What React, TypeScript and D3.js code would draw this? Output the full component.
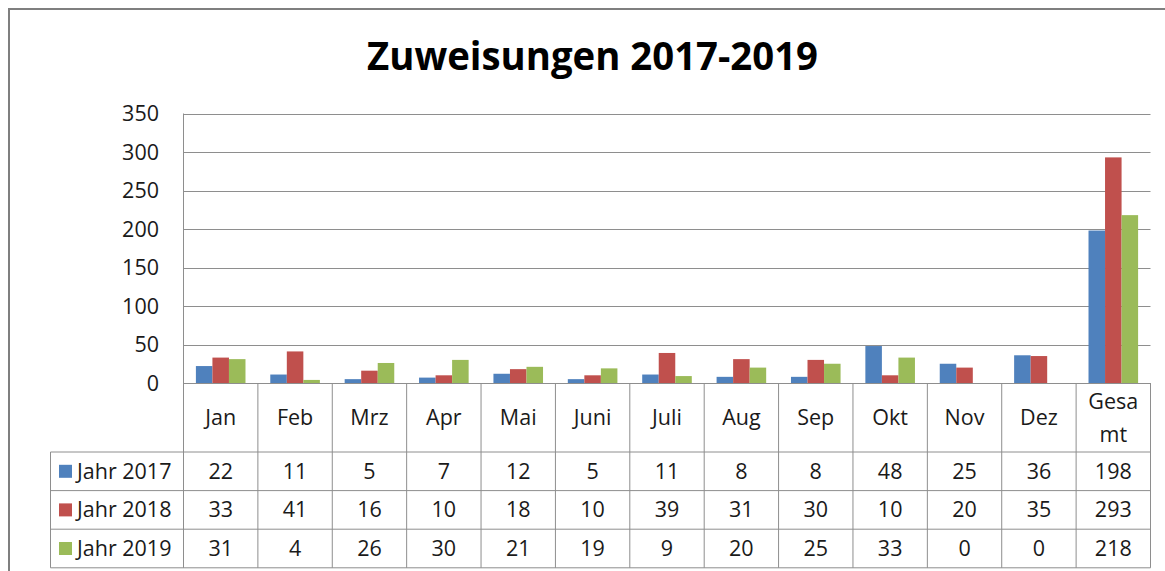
import React from "react";
import * as d3 from "d3";

const categories = ["Jan", "Feb", "Mrz", "Apr", "Mai", "Juni", "Juli", "Aug", "Sep", "Okt", "Nov", "Dez", "Gesamt"];
const categoryLabels = [["Jan"], ["Feb"], ["Mrz"], ["Apr"], ["Mai"], ["Juni"], ["Juli"], ["Aug"], ["Sep"], ["Okt"], ["Nov"], ["Dez"], ["Gesa", "mt"]];
const seriesNames = ["Jahr 2017", "Jahr 2018", "Jahr 2019"];
const values2017 = [22, 11, 5, 7, 12, 5, 11, 8, 8, 48, 25, 36, 198];
const values2018 = [33, 41, 16, 10, 18, 10, 39, 31, 30, 10, 20, 35, 293];
const values2019 = [31, 4, 26, 30, 21, 19, 9, 20, 25, 33, 0, 0, 218];
const seriesValues = [values2017, values2018, values2019];
const seriesColors = ["#4F81BD", "#C0504D", "#9BBB59"];
const yTicks = [0, 50, 100, 150, 200, 250, 300, 350];
const title = "Zuweisungen 2017-2019";

const W = 1165;
const H = 571;
const plotLeft = 183.5;
const plotRight = 1150.5;
const plotTop = 113.5;
const plotBottom = 383;
const rowH = 38.6;
const headerBottom = 452;
const tableLeft = 50.5;
const font = "'Open Sans', sans-serif";
const lineColor = "#8e8e8e";
const fs = 21.5;
const textColor = "#1a1a1a";

export default function App() {
  const x = d3.scaleBand<string>().domain(categories).range([plotLeft, plotRight]).padding(0);
  const x1 = d3
    .scaleBand<string>()
    .domain(seriesNames)
    .range([0, x.bandwidth()])
    .paddingInner(0)
    .paddingOuter(0.75);
  const y = d3.scaleLinear().domain([0, 350]).range([plotBottom, plotTop]);

  const tableBottom = headerBottom + rowH * 3;

  return (
    <svg
      width={W}
      height={H}
      style={{ position: "absolute", left: 0, top: 0, background: "#fff" }}
      fontFamily={font}
    >
      <rect x={0} y={0} width={W} height={H} fill="#fff" />
      <rect x={9} y={9} width={W + 20} height={H + 20} fill="none" stroke="#7f7f7f" strokeWidth={2} />

      <text
        x={592.5}
        y={70}
        textAnchor="middle"
        fontSize={40}
        fontWeight="bold"
        fill="#000"
        textLength={451}
        lengthAdjust="spacingAndGlyphs"
      >
        {title}
      </text>

      {yTicks.filter((t) => t > 0).map((t) => (
        <line key={t} x1={plotLeft} x2={plotRight} y1={Math.round(y(t)) + 0.5} y2={Math.round(y(t)) + 0.5} stroke={lineColor} strokeWidth={1} />
      ))}
      {yTicks.map((t) => (
        <text key={t} x={159} y={y(t)} dy="0.35em" textAnchor="end" fontSize={fs} fill={textColor}>
          {t}
        </text>
      ))}

      {seriesValues.map((vals, si) =>
        vals.map((v, ci) => {
          const bx = (x(categories[ci]) as number) + (x1(seriesNames[si]) as number);
          return (
            <rect
              key={`${si}-${ci}`}
              x={bx}
              y={y(v)}
              width={x1.bandwidth()}
              height={plotBottom - y(v)}
              fill={seriesColors[si]}
            />
          );
        })
      )}

      <line x1={plotLeft} x2={plotRight} y1={plotBottom + 0.5} y2={plotBottom + 0.5} stroke={lineColor} strokeWidth={1} />
      <line x1={plotLeft} x2={plotLeft} y1={plotTop} y2={tableBottom} stroke={lineColor} strokeWidth={1} />

      {categories.map((c) => (
        <line
          key={c}
          x1={(x(c) as number) + x.bandwidth()}
          x2={(x(c) as number) + x.bandwidth()}
          y1={plotBottom}
          y2={tableBottom}
          stroke={lineColor}
          strokeWidth={1}
        />
      ))}
      <line x1={tableLeft} x2={tableLeft} y1={headerBottom} y2={tableBottom} stroke={lineColor} strokeWidth={1} />
      {[0, 1, 2, 3].map((i) => (
        <line
          key={i}
          x1={tableLeft}
          x2={plotRight}
          y1={headerBottom + i * rowH}
          y2={headerBottom + i * rowH}
          stroke={lineColor}
          strokeWidth={1}
        />
      ))}

      {categoryLabels.map((lines, ci) => {
        const cx = (x(categories[ci]) as number) + x.bandwidth() / 2;
        const cy = (plotBottom + headerBottom) / 2;
        const lh = 33;
        return (
          <text key={ci} x={cx} textAnchor="middle" fontSize={fs} fill={textColor}>
            {lines.map((l, li) => (
              <tspan key={li} x={cx} y={cy + (li - (lines.length - 1) / 2) * lh} dy="0.35em">
                {l}
              </tspan>
            ))}
          </text>
        );
      })}

      {seriesNames.map((s, si) => {
        const cy = headerBottom + rowH * si + rowH / 2;
        return (
          <g key={s}>
            <rect x={59} y={cy - 6.5} width={13} height={13} fill={seriesColors[si]} />
            <text x={77} y={cy} dy="0.35em" fontSize={fs} fill={textColor}>
              {s}
            </text>
            {seriesValues[si].map((v, ci) => (
              <text
                key={ci}
                x={(x(categories[ci]) as number) + x.bandwidth() / 2}
                y={cy}
                dy="0.35em"
                textAnchor="middle"
                fontSize={fs}
                fill={textColor}
              >
                {v}
              </text>
            ))}
          </g>
        );
      })}
    </svg>
  );
}
